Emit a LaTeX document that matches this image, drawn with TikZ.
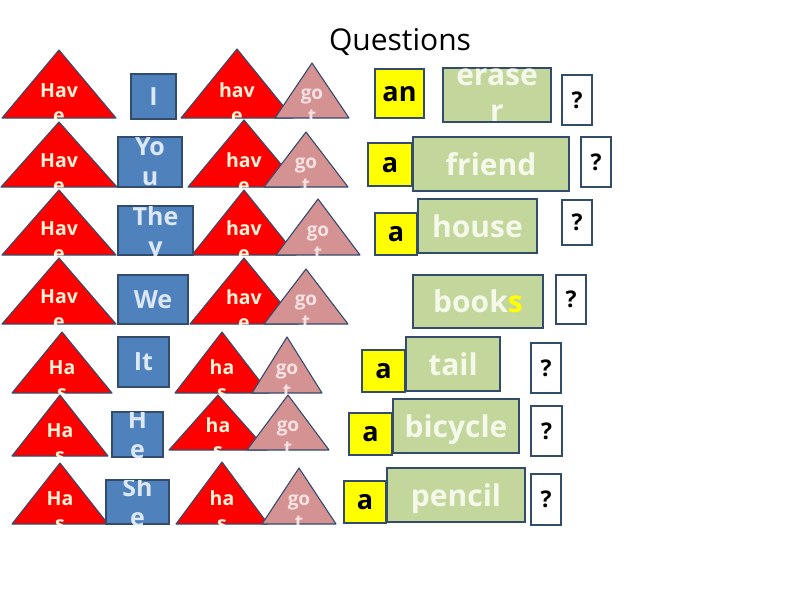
\documentclass[tikz,border=0pt]{standalone}
\usepackage{fontspec}
\setmainfont{Open Sans}
\definecolor{rouge}{RGB}{255, 0, 0}
\definecolor{bleu}{RGB}{79, 129, 189}
\definecolor{rose}{RGB}{212, 146, 146}
\definecolor{vert}{RGB}{195, 214, 155}
\definecolor{jaune}{RGB}{255, 255, 0}
\definecolor{bord}{RGB}{52, 76, 108}
\definecolor{cremepale}{RGB}{255, 242, 214}
\definecolor{bleupale}{RGB}{220, 232, 245}
\definecolor{rosepale}{RGB}{246, 226, 226}
\definecolor{vertpale}{RGB}{244, 249, 234}
\usetikzlibrary{backgrounds}
% triangle : nom, sommet x, sommet y, demi-base, base y, style, texte, style du texte
\newcommand{\triangleMot}[8]{%
	\path[#6] (#2-#4, #5) -- (#2, #3) -- (#2+#4, #5) -- cycle;
	\begin{scope}
		\clip (#2-#4, #3) rectangle (#2+#4, #5);
		\node[#8] (#1) at (#2, {#3+0.78*(#5-#3)}) {#7};
	\end{scope}
}
% boite : nom, x1, y1, x2, y2, style, texte, style du texte
\newcommand{\boiteMot}[8]{%
	\path[#6] (#2, #3) rectangle (#4, #5);
	\begin{scope}
		\clip (#2, #3) rectangle (#4, #5);
		\node[#8] (#1) at ({(#2+#4)/2}, {(#3+#5)/2}) {#7};
	\end{scope}
}

\begin{document}
\begin{tikzpicture}[x=1pt, y=-1pt]
		% STYLES
		\tikzstyle{trirouge} = [fill=rouge, draw=bord, line width=1.1pt, line join=round]
		\tikzstyle{trirose} = [fill=rose, draw=bord, line width=1.1pt, line join=round]
		\tikzstyle{boitebleue} = [fill=bleu, draw=bord, line width=1.1pt]
		\tikzstyle{boitejaune} = [fill=jaune, draw=bord, line width=1.1pt]
		\tikzstyle{boiteverte} = [fill=vert, draw=bord, line width=1.1pt]
		\tikzstyle{boiteq} = [fill=white, draw=bord, line width=1.1pt]

		\tikzstyle{txt} = [inner sep=0, align=center, text depth=0pt]
		\tikzstyle{txtrouge} = [txt, text=cremepale, font=\bfseries\fontsize{19.5}{25}\selectfont]
		\tikzstyle{txtrose} = [txt, text=rosepale, font=\bfseries\fontsize{19}{23}\selectfont]
		\tikzstyle{txtbleu} = [txt, text=bleupale, font=\bfseries\fontsize{25}{30}\selectfont]
		\tikzstyle{txtjaune} = [txt, text=black, font=\bfseries\fontsize{27}{32}\selectfont]
		\tikzstyle{txtvert} = [txt, text=vertpale, font=\bfseries\fontsize{30}{36}\selectfont]
		\tikzstyle{txtq} = [txt, text=black, font=\bfseries\fontsize{23}{27}\selectfont]

		% FOND
		\useasboundingbox[fill=white] (0, 0) rectangle (800, 600);

		% TITRE
		\node[font=\fontsize{30}{36}\selectfont] (titre) at (400, 42) {Questions};

		% LIGNE 1 : I
		\triangleMot{have1}{59}{50}{57}{118}{trirouge}{Hav\\e}{txtrouge}
		\boiteMot{i}{131}{74}{176}{119}{boitebleue}{I}{txtbleu}
		\triangleMot{haveb1}{237}{49}{56}{118}{trirouge}{hav\\e}{txtrouge}
		\triangleMot{got1}{312}{63}{37}{118}{trirose}{go\\t}{txtrose}
		\boiteMot{an}{375}{69}{424}{118}{boitejaune}{an}{txtjaune}
		\boiteMot{eraser}{443}{68}{551}{122}{boiteverte}{erase\\r}{txtvert}
		\boiteMot{q1}{562}{75}{592}{125}{boiteq}{?}{txtq}

		% LIGNE 2 : YOU
		\triangleMot{have2}{59}{122}{58}{187}{trirouge}{Hav\\e}{txtrouge}
		\boiteMot{you}{118}{137}{182}{187}{boitebleue}{Yo\\u}{txtbleu}
		\triangleMot{haveb2}{244}{120}{56}{187}{trirouge}{hav\\e}{txtrouge}
		\triangleMot{got2}{306}{132}{42}{187}{trirose}{go\\t}{txtrose}
		\boiteMot{a2}{368}{143}{412}{186}{boitejaune}{a}{txtjaune}
		\boiteMot{friend}{413}{137}{569}{191}{boiteverte}{friend}{txtvert}
		\boiteMot{q2}{581}{137}{611}{187}{boiteq}{?}{txtq}

		% LIGNE 3 : THEY
		\triangleMot{have3}{59}{190}{57}{255}{trirouge}{Hav\\e}{txtrouge}
		\boiteMot{they}{118}{206}{193}{255}{boitebleue}{The\\y}{txtbleu}
		\triangleMot{haveb3}{244}{190}{52}{255}{trirouge}{hav\\e}{txtrouge}
		\triangleMot{got3}{318}{199}{42}{255}{trirose}{go\\t}{txtrose}
		\boiteMot{a3}{375}{213}{417}{255}{boitejaune}{a}{txtjaune}
		\boiteMot{house}{418}{199}{537}{253}{boiteverte}{house}{txtvert}
		\boiteMot{q3}{562}{200}{592}{245}{boiteq}{?}{txtq}

		% LIGNE 4 : WE
		\triangleMot{have4}{59}{258}{57}{324}{trirouge}{Hav\\e}{txtrouge}
		\boiteMot{we}{118}{275}{188}{324}{boitebleue}{We}{txtbleu}
		\triangleMot{haveb4}{244}{258}{54}{324}{trirouge}{hav\\e}{txtrouge}
		\triangleMot{got4}{306}{269}{42}{324}{trirose}{go\\t}{txtrose}
		\boiteMot{books}{413}{275}{543}{328}{boiteverte}{book\textcolor{jaune}{s}}{txtvert}
		\boiteMot{q4}{556}{275}{586}{324}{boiteq}{?}{txtq}

		% LIGNE 5 : IT
		\triangleMot{has5}{62}{332}{50}{393}{trirouge}{Ha\\s}{txtrouge}
		\boiteMot{it}{118}{337}{169}{387}{boitebleue}{It}{txtbleu}
		\triangleMot{hasb5}{222}{332}{47}{393}{trirouge}{ha\\s}{txtrouge}
		\triangleMot{got5}{287}{337}{35}{393}{trirose}{go\\t}{txtrose}
		\boiteMot{a5}{362}{350}{405}{392}{boitejaune}{a}{txtjaune}
		\boiteMot{tail}{406}{337}{500}{391}{boiteverte}{tail}{txtvert}
		\boiteMot{q5}{531}{343}{561}{393}{boiteq}{?}{txtq}

		% LIGNE 6 : HE
		\triangleMot{has6}{60}{395}{48}{456}{trirouge}{Ha\\s}{txtrouge}
		\boiteMot{he}{112}{412}{163}{457}{boitebleue}{H\\e}{txtbleu}
		\triangleMot{hasb6}{218}{395}{49}{450}{trirouge}{ha\\s}{txtrouge}
		\triangleMot{got6}{288}{395}{41}{450}{trirose}{go\\t}{txtrose}
		\boiteMot{a6}{349}{413}{392}{455}{boitejaune}{a}{txtjaune}
		\boiteMot{bicycle}{393}{399}{519}{453}{boiteverte}{bicycle}{txtvert}
		\boiteMot{q6}{531}{406}{562}{456}{boiteq}{?}{txtq}

		% LIGNE 7 : SHE
		\triangleMot{has7}{60}{463}{48}{524}{trirouge}{Ha\\s}{txtrouge}
		\boiteMot{she}{106}{480}{169}{524}{boitebleue}{Sh\\e}{txtbleu}
		\triangleMot{hasb7}{222}{462}{46}{524}{trirouge}{ha\\s}{txtrouge}
		\triangleMot{got7}{299}{468}{37}{524}{trirose}{go\\t}{txtrose}
		\boiteMot{a7}{344}{481}{386}{523}{boitejaune}{a}{txtjaune}
		\boiteMot{pencil}{387}{468}{525}{522}{boiteverte}{pencil}{txtvert}
		\boiteMot{q7}{531}{474}{561}{525}{boiteq}{?}{txtq}

	\end{tikzpicture}
\end{document}
